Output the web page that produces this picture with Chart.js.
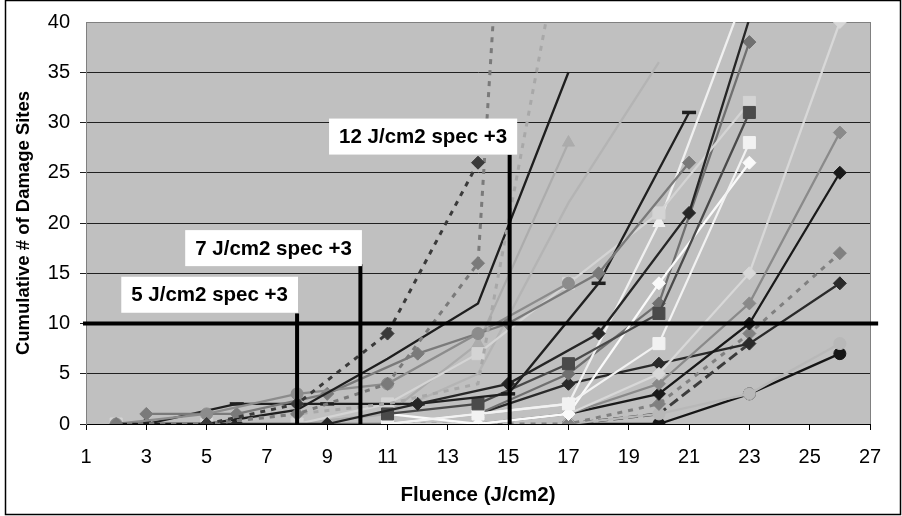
<!DOCTYPE html>
<html>
<head>
<meta charset="utf-8">
<script src="https://cdn.jsdelivr.net/npm/chart.js@4.4.1/dist/chart.umd.min.js"></script>
<style>
  html, body { margin: 0; padding: 0; background: #fff; }
  canvas { display: block; }
</style>
</head>
<body>
<canvas id="myChart" width="902" height="516"></canvas>
<script>
// fluence steps (two interleaved shot sets)
var fluenceA = [2, 5, 8, 11, 14, 17, 20, 23, 26];
var fluenceB = [3, 6, 9, 12, 15, 18, 21, 24];

// cumulative damage sites, one array per sample (null = not shot)
var sampleA1 = [null, 0, 2, 9, 26];
var sampleA2 = [0, 0, 1, 4, 16, 160];
var sampleA3 = [0, 0, 1, 2, 4, 52];
var sampleA4 = [0, 0, 1.4, 6.5, 12, 35];
var sampleA5 = [0, 1, 3, 4, 9, 14];
var sampleA6 = [null, null, null, 1, 2, 6, 11, 31];
var sampleA7 = [0, 0, 0, 2, 7, 14, 21, 32];
var sampleA8 = [null, null, null, 0, 1, 2, 8, 28];
var sampleA9 = [null, null, null, 1, 0, 1, 14, 26];
var sampleA10 = [null, null, null, 0, 1, 2, 20, 44];
var sampleA11 = [null, null, 0, 1, 8, 28];
var sampleA12 = [0, 0, 0, 1, 5, 22, 36];
var sampleA13 = [null, null, 0, 0, 1, 5, 12, 38];
var sampleA14 = [null, null, null, 0, 0, 1, 5, 15, 40];
var sampleA15 = [null, null, null, null, 0, 1, 4, 12, 29];
var sampleA16 = [null, null, null, null, 0, 1, 3, 10, 25];
var sampleA17 = [null, null, null, null, 1, 4, 6, 8, 14];
var sampleA18 = [null, null, null, 0, 0, 0, 2, 9, 17];
var sampleA19 = [null, null, null, null, null, 0, 1, 3, 8];
var sampleA20 = [null, null, null, null, null, 0, 0, 3, 7];
var sampleA21 = [null, null, null, null, null, 0, 1, 8];
var sampleB1 = [1, 1, 3, 7, 10, 15, 26];
var sampleB2 = [0, 0, 0, 2, 4, 9, 21, 50];
var sampleB3 = [0, 2, 2, 2, 3, 14, 31];

// spec markers drawn over the plot
var limitSites = 10;
var specFluence = [8, 10.1, 15.05];
var specTop = [11, 15.9, 26.8];
var specText = ['5 J/cm2 spec +3', '7 J/cm2 spec +3', '12 J/cm2 spec +3'];
var specTextX = [5.1, 7.22, 12.18];
var specTextY = [12.86, 17.5, 28.6];

var FONT = 'Liberation Sans, Arial, sans-serif';

// style table: x set, values, color, dash, marker   (last rows end up on top)
var series = [
  [fluenceA, sampleA21, '#3c3c3c', [10, 5], false],
  [fluenceA, sampleA20, '#161616', null, 'circle'],
  [fluenceA, sampleA19, '#b8b8b8', null, 'circle'],
  [fluenceA, sampleA18, '#808080', [5, 6], 'rectRot'],
  [fluenceA, sampleA17, '#2a2a2a', null, 'rectRot'],
  [fluenceA, sampleA16, '#1a1a1a', null, 'rectRot'],
  [fluenceA, sampleA15, '#8a8a8a', null, 'rectRot'],
  [fluenceA, sampleA14, '#d8d8d8', null, 'rectRot'],
  [fluenceA, sampleA13, '#707070', null, 'rectRot'],
  [fluenceA, sampleA12, '#b4b4b4', null, false],
  [fluenceA, sampleA11, '#acacac', null, 'triangle'],
  [fluenceA, sampleA10, '#f0f0f0', null, 'triangle'],
  [fluenceA, sampleA9, '#fafafa', null, 'rectRot'],
  [fluenceA, sampleA8, '#f2f2f2', null, 'rect'],
  [fluenceA, sampleA7, '#d4d4d4', null, 'rect'],
  [fluenceA, sampleA6, '#4a4a4a', null, 'rect'],
  [fluenceB, sampleB3, '#202020', null, 'line'],
  [fluenceB, sampleB2, '#262626', null, 'rectRot'],
  [fluenceB, sampleB1, '#7a7a7a', null, 'rectRot'],
  [fluenceA, sampleA5, '#8c8c8c', null, 'circle'],
  [fluenceA, sampleA4, '#1e1e1e', null, false],
  [fluenceA, sampleA3, '#a8a8a8', [5, 6], false],
  [fluenceA, sampleA2, '#7a7a7a', [5, 6], 'rectRot'],
  [fluenceA, sampleA1, '#3a3a3a', [5, 6], 'rectRot']
];

var markerSize = { circle: 6, rectRot: 6.5, rect: 8.5, triangle: 7, line: 7 };

function toPoints(xs, ys) {
  var pts = [];
  for (var i = 0; i < ys.length; i++) {
    if (ys[i] !== null) pts.push({ x: xs[i], y: ys[i] });
  }
  return pts;
}

var datasets = series.map(function (s, i) {
  return {
    data: toPoints(s[0], s[1]),
    order: -i,
    borderColor: s[2],
    backgroundColor: s[2],
    borderWidth: s[3] ? 3 : 2.3,
    borderDash: s[3] || [],
    pointStyle: s[4] || 'circle',
    pointRadius: s[4] ? markerSize[s[4]] : 0,
    pointBorderWidth: s[4] === 'line' ? 3.5 : 1,
    pointBackgroundColor: s[2],
    pointBorderColor: s[2]
  };
});

var specPlugin = {
  id: 'specs',
  beforeDraw: function (chart) {
    var ctx = chart.ctx, a = chart.chartArea;
    ctx.save();
    ctx.fillStyle = '#fff';
    ctx.fillRect(0, 0, chart.width, chart.height);
    ctx.fillStyle = '#c0c0c0';
    ctx.fillRect(a.left, a.top, a.right - a.left, a.bottom - a.top);
    ctx.strokeStyle = '#808080';
    ctx.lineWidth = 1;
    ctx.strokeRect(a.left + 0.5, a.top + 0.5, a.right - a.left, a.bottom - a.top);
    ctx.restore();
  },
  afterDatasetsDraw: function (chart) {
    var ctx = chart.ctx;
    var xs = chart.scales.x, ys = chart.scales.y;
    ctx.save();
    ctx.strokeStyle = '#000';
    ctx.lineWidth = 4;
    ctx.beginPath();
    ctx.moveTo(xs.getPixelForValue(0.9), ys.getPixelForValue(limitSites));
    ctx.lineTo(xs.getPixelForValue(27.27), ys.getPixelForValue(limitSites));
    ctx.stroke();
    for (var i = 0; i < specFluence.length; i++) {
      var px = xs.getPixelForValue(specFluence[i]);
      ctx.beginPath();
      ctx.moveTo(px, ys.getPixelForValue(0));
      ctx.lineTo(px, ys.getPixelForValue(specTop[i]));
      ctx.stroke();
    }
    ctx.font = 'bold 20.5px ' + FONT;
    ctx.textAlign = 'center';
    ctx.textBaseline = 'middle';
    for (var j = 0; j < specText.length; j++) {
      var cx = xs.getPixelForValue(specTextX[j]);
      var cy = ys.getPixelForValue(specTextY[j]);
      var w = ctx.measureText(specText[j]).width + 20;
      ctx.fillStyle = '#fff';
      ctx.fillRect(cx - w / 2, cy - 18, w, 36);
      ctx.fillStyle = '#000';
      ctx.fillText(specText[j], cx, cy + 1);
    }
    ctx.restore();
  },
  afterDraw: function (chart) {
    var ctx = chart.ctx;
    ctx.save();
    ctx.strokeStyle = '#000';
    ctx.lineWidth = 1.5;
    ctx.strokeRect(5.5, 0.5, 895, 514);
    ctx.restore();
  }
};

new Chart(document.getElementById('myChart').getContext('2d'), {
  type: 'line',
  data: { datasets: datasets },
  plugins: [specPlugin],
  options: {
    responsive: false,
    animation: false,
    devicePixelRatio: 1,
    layout: { padding: { left: 0, top: 18, right: 32, bottom: 0 } },
    elements: { line: { tension: 0 } },
    plugins: { legend: { display: false }, tooltip: { enabled: false } },
    scales: {
      x: {
        type: 'linear',
        min: 1,
        max: 27,
        afterFit: function (s) { s.height = 92; },
        ticks: { stepSize: 2, color: '#000', font: { family: FONT, size: 20 }, padding: 15 },
        grid: { drawOnChartArea: false, drawTicks: true, tickLength: 6, color: '#000' },
        border: { color: '#000', width: 1 },
        title: {
          display: true, text: 'Fluence (J/cm2)', color: '#000',
          font: { family: FONT, size: 20.5, weight: 'bold' }, padding: { top: 0, bottom: 8 }
        }
      },
      y: {
        min: 0,
        max: 40,
        afterFit: function (s) { s.width = 86; },
        ticks: { stepSize: 5, color: '#000', font: { family: FONT, size: 20 }, padding: 10 },
        grid: {
          color: function (c) { return c.tick && c.tick.value === 40 ? 'rgba(0,0,0,0)' : '#202020'; },
          tickLength: 6
        },
        border: { color: '#808080', width: 1 },
        title: {
          display: true, text: 'Cumulative # of Damage Sites', color: '#000',
          font: { family: FONT, size: 18.5, weight: 'bold' }, padding: { top: 13, bottom: 0 }
        }
      }
    }
  }
});
</script>
</body>
</html>
